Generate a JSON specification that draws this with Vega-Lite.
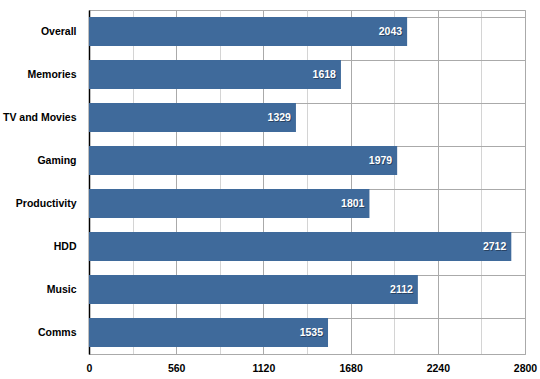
{
  "$schema": "https://vega.github.io/schema/vega-lite/v6.json",
  "width": 436,
  "height": 344,
  "autosize": {"type": "none"},
  "padding": {"left": 89, "top": 10, "right": 15, "bottom": 25},
  "background": "white",
  "config": {
    "view": {"stroke": "#aaaaaa", "strokeWidth": 1},
    "font": "Liberation Sans"
  },
  "data": {
    "values": [
      {"category": "Overall", "score": 2043},
      {"category": "Memories", "score": 1618},
      {"category": "TV and Movies", "score": 1329},
      {"category": "Gaming", "score": 1979},
      {"category": "Productivity", "score": 1801},
      {"category": "HDD", "score": 2712},
      {"category": "Music", "score": 2112},
      {"category": "Comms", "score": 1535}
    ]
  },
  "encoding": {
    "y": {
      "field": "category",
      "type": "nominal",
      "sort": null,
      "title": null,
      "scale": {"paddingInner": 0.33, "paddingOuter": 0.165},
      "axis": {
        "bandPosition": 0,
        "grid": true,
        "gridColor": "#aaaaaa",
        "gridWidth": 1,
        "ticks": false,
        "domainColor": "#000000",
        "domainWidth": 1.5,
        "labelFont": "Liberation Sans",
        "labelFontWeight": "bold",
        "labelFontSize": 10.5,
        "labelColor": "#000000",
        "labelPadding": 13,
        "zindex": 0
      }
    },
    "x": {
      "field": "score",
      "type": "quantitative",
      "title": null,
      "scale": {"domain": [0, 2800], "nice": false},
      "axis": {
        "values": [0, 280, 560, 840, 1120, 1400, 1680, 1960, 2240, 2520, 2800],
        "labelExpr": "datum.value % 560 === 0 ? datum.label : ''",
        "format": "d",
        "grid": true,
        "gridColor": {"condition": {"test": "datum.value % 560 === 0", "value": "#aaaaaa"}, "value": "#d4d4d4"},
        "ticks": false,
        "domainColor": "#aaaaaa",
        "labelFont": "Liberation Sans",
        "labelFontWeight": "bold",
        "labelFontSize": 10.5,
        "labelColor": "#000000",
        "labelPadding": 9,
        "labelFlush": false,
        "zindex": 0
      }
    }
  },
  "layer": [
    {"mark": {"type": "bar", "color": "#3f6a9b"}},
    {
      "mark": {"type": "text", "align": "right", "baseline": "middle", "dx": -4, "dy": 1.5, "fill": "#1a2a40", "opacity": 0.6, "font": "Liberation Sans", "fontWeight": "bold", "fontSize": 10.5},
      "encoding": {"text": {"field": "score", "type": "quantitative", "format": "d"}}
    },
    {
      "mark": {"type": "text", "align": "right", "baseline": "middle", "dx": -5, "dy": 0.5, "fill": "white", "font": "Liberation Sans", "fontWeight": "bold", "fontSize": 10.5},
      "encoding": {"text": {"field": "score", "type": "quantitative", "format": "d"}}
    }
  ]
}
